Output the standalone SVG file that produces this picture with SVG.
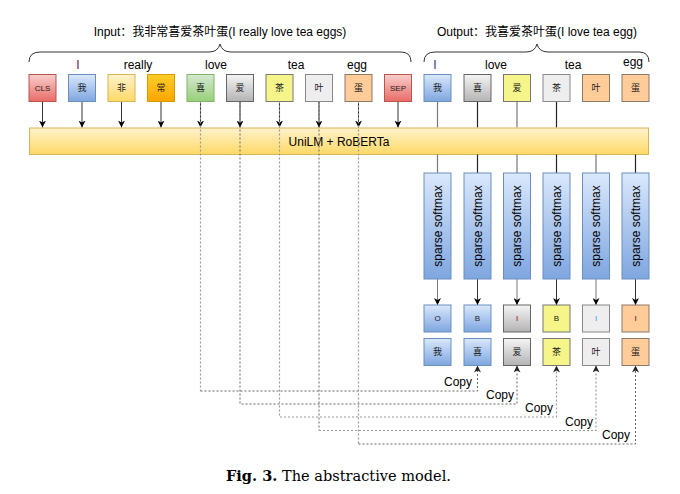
<svg xmlns="http://www.w3.org/2000/svg" width="680" height="494" viewBox="0 0 680 494">
<defs>
<linearGradient id="gRed" x1="0" y1="0" x2="0" y2="1"><stop offset="0" stop-color="#f8cecc"/><stop offset="1" stop-color="#ea6b66"/></linearGradient>
<linearGradient id="gBlue" x1="0" y1="0" x2="0" y2="1"><stop offset="0" stop-color="#dae8fc"/><stop offset="1" stop-color="#7ea6e0"/></linearGradient>
<linearGradient id="gYel" x1="0" y1="0" x2="0" y2="1"><stop offset="0" stop-color="#fff2cc"/><stop offset="1" stop-color="#ffd966"/></linearGradient>
<linearGradient id="gOra" x1="0" y1="0" x2="0" y2="1"><stop offset="0" stop-color="#ffcd28"/><stop offset="1" stop-color="#ffa500"/></linearGradient>
<linearGradient id="gGrn" x1="0" y1="0" x2="0" y2="1"><stop offset="0" stop-color="#d5e8d4"/><stop offset="1" stop-color="#97d077"/></linearGradient>
<linearGradient id="gGry" x1="0" y1="0" x2="0" y2="1"><stop offset="0" stop-color="#f5f5f5"/><stop offset="1" stop-color="#b3b3b3"/></linearGradient>
<marker id="arr" viewBox="0 0 10 10" refX="10" refY="5" markerWidth="7" markerHeight="7" markerUnits="userSpaceOnUse" orient="auto"><path d="M0,0 L10,5 L0,10 L3,5 Z" fill="#000"/></marker>
<marker id="arrg" viewBox="0 0 10 10" refX="10" refY="5" markerWidth="7" markerHeight="7" markerUnits="userSpaceOnUse" orient="auto"><path d="M0,0 L10,5 L0,10 L3,5 Z" fill="#222"/></marker>
</defs>
<style>
text{font-family:"Liberation Sans",Arial,"Noto Sans CJK SC",sans-serif;fill:#000}
.hdr{font-size:12px;text-anchor:middle}
.wl{font-size:12px;text-anchor:middle}
.bt{font-size:8px;text-anchor:middle;fill:#222}
.cj{font-size:9px;text-anchor:middle;fill:#222;font-family:"Noto Sans CJK SC","Liberation Sans",sans-serif}
.red{fill:url(#gRed);stroke:#b85450}
.blue{fill:url(#gBlue);stroke:#6c8ebf}
.yel{fill:url(#gYel);stroke:#d6b656}
.ora{fill:url(#gOra);stroke:#d79b00}
.grn{fill:url(#gGrn);stroke:#82b366}
.gry{fill:url(#gGry);stroke:#666666}
.ylw{fill:#f5f58a;stroke:#777}
.lg{fill:#eeeeee;stroke:#888}
.pch{fill:#ffcc99;stroke:#8a7a6a}
.brace{fill:none;stroke:#333;stroke-width:1}
.arrow{stroke:#333;stroke-width:1;fill:none;marker-end:url(#arr)}
.plain{stroke:#777;stroke-width:1.2;fill:none}
.dot1{stroke:#666;stroke-width:1;stroke-dasharray:2 2;fill:none}
.dot2{stroke:#999;stroke-width:1.2;stroke-dasharray:2 2;fill:none}
.copy{font-size:12px;text-anchor:end}
.sm{font-size:12px;text-anchor:middle}
</style>

<!-- headers and braces -->
<g id="input-header">
<text class="hdr" x="220" y="36">Input：我非常喜爱茶叶蛋(I really love tea eggs)</text>
<path class="brace" d="M29,62 Q29,52 40,52 L209,52 Q218,52 220,44 Q222,52 231,52 L401,52 Q411,52 411,62"/>
</g>
<g id="output-header">
<text class="hdr" x="537" y="36">Output：我喜爱茶叶蛋(I love tea egg)</text>
<path class="brace" d="M424,62 Q424,52 435,52 L526,52 Q535,52 537,44 Q539,52 548,52 L639,52 Q649,52 649,62"/>
</g>

<!-- word labels -->
<g id="input-words">
<rect x="72" y="57" width="12" height="14" fill="#fff"/><text class="wl" x="78" y="69" style="fill:#6b2050">I</text>
<rect x="122" y="57" width="32" height="14" fill="#fff"/><text class="wl" x="138" y="69">really</text>
<rect x="202" y="57" width="28" height="14" fill="#fff"/><text class="wl" x="216" y="69">love</text>
<rect x="286" y="57" width="21" height="14" fill="#fff"/><text class="wl" x="296" y="69">tea</text>
<rect x="346" y="57" width="23" height="14" fill="#fff"/><text class="wl" x="357" y="69">egg</text>
</g>
<g id="output-words">
<rect x="430" y="57" width="10" height="14" fill="#fff"/><text class="wl" x="435" y="69" style="fill:#2a3a8a">I</text>
<rect x="483" y="57" width="27" height="14" fill="#fff"/><text class="wl" x="496" y="69">love</text>
<rect x="562" y="57" width="22" height="14" fill="#fff"/><text class="wl" x="573" y="69">tea</text>
<text class="wl" x="633" y="66">egg</text>
</g>

<!-- connectors -->
<g id="connectors">
<path class="arrow" d="M42.5,101.5 V127.5"/>
<path class="arrow" d="M82,101.5 V127.5"/>
<path class="arrow" d="M121.5,101.5 V127.5"/>
<path class="arrow" d="M161,101.5 V127.5"/>
<path class="arrow" d="M200.5,101.5 V127.5"/>
<path class="arrow" d="M240,101.5 V127.5"/>
<path class="arrow" d="M279.5,101.5 V127.5"/>
<path class="arrow" d="M319,101.5 V127.5"/>
<path class="arrow" d="M358.5,101.5 V127.5"/>
<path class="arrow" d="M398,101.5 V127.5"/>
<path class="plain" d="M437.5,101.5 V127.5"/>
<path class="plain" d="M477.5,101.5 V127.5" style="stroke:#222"/>
<path class="plain" d="M517,101.5 V127.5"/>
<path class="plain" d="M556.5,101.5 V127.5" style="stroke:#222"/>
</g>

<!-- bar -->
<g id="bar">
<rect x="29.5" y="128" width="619" height="26.5" fill="url(#gYel)" stroke="#d6b656"/>
<text x="339" y="145.5" style="font-size:12px;text-anchor:middle">UniLM + RoBERTa</text>
</g>

<!-- input boxes -->
<g id="in-cls"><rect class="red" x="29" y="74.5" width="27" height="27"/><text class="bt" x="42.5" y="91">CLS</text></g>
<g id="in-wo"><rect class="blue" x="68.5" y="74.5" width="27" height="27"/><text class="cj" x="82" y="91">我</text></g>
<g id="in-fei"><rect class="yel" x="108" y="74.5" width="27" height="27"/><text class="cj" x="121.5" y="91">非</text></g>
<g id="in-chang"><rect class="ora" x="147.5" y="74.5" width="27" height="27"/><text class="cj" x="161" y="91">常</text></g>
<g id="in-xi"><rect class="grn" x="187" y="74.5" width="27" height="27"/><text class="cj" x="200.5" y="91">喜</text></g>
<g id="in-ai"><rect class="gry" x="226.5" y="74.5" width="27" height="27"/><text class="cj" x="240" y="91">爱</text></g>
<g id="in-cha"><rect class="ylw" x="266" y="74.5" width="27" height="27"/><text class="cj" x="279.5" y="91">茶</text></g>
<g id="in-ye"><rect class="lg" x="305.5" y="74.5" width="27" height="27"/><text class="cj" x="319" y="91">叶</text></g>
<g id="in-dan"><rect class="pch" x="345" y="74.5" width="27" height="27"/><text class="cj" x="358.5" y="91">蛋</text></g>
<g id="in-sep"><rect class="red" x="384.5" y="74.5" width="27" height="27"/><text class="bt" x="398" y="91">SEP</text></g>

<!-- output boxes -->
<g id="out-wo"><rect class="blue" x="424" y="74.5" width="27" height="27"/><text class="cj" x="437.5" y="91">我</text></g>
<g id="out-xi"><rect class="gry" x="464" y="74.5" width="27" height="27"/><text class="cj" x="477.5" y="91">喜</text></g>
<g id="out-ai"><rect class="ylw" x="503.5" y="74.5" width="27" height="27"/><text class="cj" x="517" y="91">爱</text></g>
<g id="out-cha"><rect class="lg" x="543" y="74.5" width="27" height="27"/><text class="cj" x="556.5" y="91">茶</text></g>
<g id="out-ye"><rect class="pch" x="582.5" y="74.5" width="27" height="27"/><text class="cj" x="596" y="91">叶</text></g>
<g id="out-dan"><rect class="pch" x="622" y="74.5" width="27" height="27"/><text class="cj" x="635.5" y="91">蛋</text></g>

<!-- connectors below bar -->
<g id="connectors-lower">
<path class="plain" d="M437.5,154.5 V173"/>
<path class="plain" d="M477.5,154.5 V173" style="stroke:#222"/>
<path class="plain" d="M517,154.5 V173"/>
<path class="plain" d="M556.5,154.5 V173" style="stroke:#222"/>
<path class="plain" d="M596,154.5 V173"/>
<path class="plain" d="M635.5,154.5 V173" style="stroke:#222"/>
<path class="arrow" d="M437.5,279 V305" style="stroke:#777"/>
<path class="arrow" d="M477.5,279 V305"/>
<path class="arrow" d="M517,279 V305" style="stroke:#777"/>
<path class="arrow" d="M556.5,279 V305"/>
<path class="arrow" d="M596,279 V305" style="stroke:#777"/>
<path class="arrow" d="M635.5,279 V305"/>
<!-- copy paths -->
<path class="dot2" d="M200.5,101.5 V391"/><path class="dot1" d="M200.5,391 H477.5 V365.5" marker-end="url(#arrg)"/>
<path class="dot1" d="M240,101.5 V404 H517 V365.5" marker-end="url(#arrg)"/>
<path class="dot2" d="M279.5,101.5 V417 H556.5 V365.5" marker-end="url(#arrg)"/>
<path class="dot1" d="M319,101.5 V430.5"/><path class="dot2" d="M319,430.5 H596 V365.5" marker-end="url(#arrg)"/>
<path class="dot2" d="M358.5,101.5 V444"/><path class="dot1" d="M358.5,444 H635.5 V365.5" marker-end="url(#arrg)"/>
<text class="copy" x="472" y="386">Copy</text>
<text class="copy" x="514" y="399">Copy</text>
<text class="copy" x="553" y="412">Copy</text>
<text class="copy" x="593" y="426">Copy</text>
<text class="copy" x="630" y="438.5">Copy</text>
</g>

<!-- sparse softmax -->
<g id="softmax-1"><rect class="blue" x="424" y="173" width="27" height="106"/><text class="sm" transform="translate(441.5,226) rotate(-90)">sparse softmax</text></g>
<g id="softmax-2"><rect class="blue" x="464" y="173" width="27" height="106"/><text class="sm" transform="translate(481.5,226) rotate(-90)">sparse softmax</text></g>
<g id="softmax-3"><rect class="blue" x="503.5" y="173" width="27" height="106"/><text class="sm" transform="translate(521,226) rotate(-90)">sparse softmax</text></g>
<g id="softmax-4"><rect class="blue" x="543" y="173" width="27" height="106"/><text class="sm" transform="translate(560.5,226) rotate(-90)">sparse softmax</text></g>
<g id="softmax-5"><rect class="blue" x="582.5" y="173" width="27" height="106"/><text class="sm" transform="translate(600,226) rotate(-90)">sparse softmax</text></g>
<g id="softmax-6"><rect class="blue" x="622" y="173" width="27" height="106"/><text class="sm" transform="translate(639.5,226) rotate(-90)">sparse softmax</text></g>

<!-- tag boxes -->
<g id="tag-1"><rect class="blue" x="424" y="305" width="27" height="27"/><text class="bt" x="437.5" y="321">O</text></g>
<g id="tag-2"><rect class="blue" x="464" y="305" width="27" height="27"/><text class="bt" x="477.5" y="321">B</text></g>
<g id="tag-3"><rect class="gry" x="503.5" y="305" width="27" height="27"/><text class="bt" x="517" y="321" style="fill:#990000">I</text></g>
<g id="tag-4"><rect class="ylw" x="543" y="305" width="27" height="27"/><text class="bt" x="556.5" y="321">B</text></g>
<g id="tag-5"><rect class="lg" x="582.5" y="305" width="27" height="27"/><text class="bt" x="596" y="321" style="fill:#3399ff">I</text></g>
<g id="tag-6"><rect class="pch" x="622" y="305" width="27" height="27"/><text class="bt" x="635.5" y="321">I</text></g>

<!-- result boxes -->
<g id="res-1"><rect class="blue" x="424" y="338.5" width="27" height="27"/><text class="cj" x="437.5" y="355">我</text></g>
<g id="res-2"><rect class="blue" x="464" y="338.5" width="27" height="27"/><text class="cj" x="477.5" y="355">喜</text></g>
<g id="res-3"><rect class="gry" x="503.5" y="338.5" width="27" height="27"/><text class="cj" x="517" y="355">爱</text></g>
<g id="res-4"><rect class="ylw" x="543" y="338.5" width="27" height="27"/><text class="cj" x="556.5" y="355">茶</text></g>
<g id="res-5"><rect class="lg" x="582.5" y="338.5" width="27" height="27"/><text class="cj" x="596" y="355">叶</text></g>
<g id="res-6"><rect class="pch" x="622" y="338.5" width="27" height="27"/><text class="cj" x="635.5" y="355">蛋</text></g>

<g id="caption">
<text x="226" y="481" textLength="225" lengthAdjust="spacingAndGlyphs" style="font-family:'DejaVu Serif','Liberation Serif',serif;font-size:15px"><tspan font-weight="bold">Fig. 3.</tspan> The abstractive model.</text>
</g>
</svg>
